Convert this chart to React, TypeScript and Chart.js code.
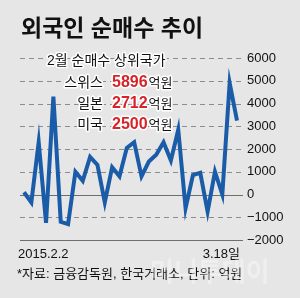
import React, { useEffect, useRef } from "react";
import { Chart, registerables } from "chart.js";

Chart.register(...registerables);

const dates = [
  "2.2", "2.3", "2.4", "2.5", "2.6", "2.9", "2.10", "2.11", "2.12", "2.13",
  "2.16", "2.17", "2.23", "2.24", "2.25", "2.26", "2.27", "3.2", "3.3", "3.4",
  "3.5", "3.6", "3.9", "3.10", "3.11", "3.12", "3.13", "3.16", "3.17", "3.18",
];
const netBuy = [
  100, -350, 2300, -1250, 4300, -1200, -1300, 1000, 600, 1650,
  1300, -350, 1200, 800, 2050, 2300, 800, 1450, 1750, 2300,
  1500, 2850, -600, 850, 950, -750, 1000, 0, 4900, 3250,
];
const yTicks = [-2000, -1000, 0, 1000, 2000, 3000, 4000, 5000, 6000];
const title = "외국인 순매수 추이";
const boxTitle = "2월 순매수 상위국가";
const countries = ["스위스", "일본", "미국"];
const countryValues = [5896, 2712, 2500];
const unit = "억원";
const firstLabel = "2015.2.2";
const lastLabel = "3.18일";
const footer = "*자료: 금융감독원, 한국거래소, 단위: 억원";
const watermark = "머니투데이";

const FONT = "'Liberation Sans', 'Noto Sans CJK KR', sans-serif";

const gridPlugin = {
  id: "customGrid",
  beforeDatasetsDraw(chart: any) {
    const { ctx, chartArea, scales } = chart;
    const y = scales.y;
    const x0 = chartArea.left - 4;
    const x1 = chartArea.right + 6;
    ctx.save();
    yTicks.forEach((v) => {
      const py = Math.round(y.getPixelForValue(v)) + 0.5;
      ctx.beginPath();
      if (v === 0 || v === yTicks[0]) {
        ctx.setLineDash([]);
        ctx.strokeStyle = "#6e6e6e";
      } else {
        ctx.setLineDash([5, 4]);
        ctx.strokeStyle = "#8c8c8c";
      }
      ctx.lineWidth = 1;
      ctx.moveTo(x0, py);
      ctx.lineTo(x1, py);
      ctx.stroke();
    });
    ctx.restore();
  },
};

function haloText(ctx: CanvasRenderingContext2D, t: string, x: number, y: number, fill: string) {
  ctx.lineJoin = "round";
  ctx.strokeStyle = "#ffffff";
  ctx.lineWidth = 3;
  ctx.strokeText(t, x, y);
  ctx.fillStyle = fill;
  ctx.fillText(t, x, y);
}

const textPlugin = {
  id: "texts",
  afterDraw(chart: any) {
    const { ctx, scales } = chart;
    const xs = scales.x;
    ctx.save();
    ctx.textBaseline = "middle";
    // title
    ctx.textAlign = "left";
    ctx.font = `bold 23px ${FONT}`;
    ctx.fillStyle = "#111";
    ctx.fillText(title, 21, 30);
    // box
    ctx.font = `14px ${FONT}`;
    ctx.textAlign = "left";
    haloText(ctx, boxTitle, 47, 61, "#111");
    countries.forEach((c, i) => {
      const yy = 83 + i * 21;
      ctx.font = `14px ${FONT}`;
      ctx.textAlign = "right";
      haloText(ctx, c, 103, yy, "#111");
      ctx.textAlign = "left";
      ctx.font = `bold 16px ${FONT}`;
      const num = String(countryValues[i]);
      haloText(ctx, num, 112, yy, "#d8232a");
      const w = ctx.measureText(num).width;
      ctx.font = `13px ${FONT}`;
      haloText(ctx, unit, 112 + w + 1, yy, "#111");
    });
    // x labels
    ctx.font = `13px ${FONT}`;
    ctx.fillStyle = "#111";
    ctx.textAlign = "left";
    ctx.fillText(firstLabel, xs.getPixelForValue(0) - 6, 254);
    ctx.textAlign = "right";
    ctx.fillText(lastLabel, xs.getPixelForValue(dates.length - 1) + 3, 254);
    // footer
    ctx.textAlign = "left";
    ctx.fillText(footer, 17, 274);
    // watermark
    ctx.font = `bold 26px ${FONT}`;
    ctx.fillStyle = "rgba(255,255,255,0.35)";
    ctx.fillText(watermark, 150, 274);
    ctx.restore();
  },
};

export default function App() {
  const ref = useRef<HTMLCanvasElement>(null);
  useEffect(() => {
    document.body.style.margin = "0";
    const chart = new Chart(ref.current!, {
      type: "line",
      data: {
        labels: dates,
        datasets: [
          {
            data: netBuy,
            borderColor: "#1a5ca8",
            borderWidth: 4,
            pointRadius: 0,
            tension: 0,
            borderJoinStyle: "miter",
            fill: false,
          },
        ],
      },
      options: {
        animation: false,
        responsive: false,
        devicePixelRatio: 1,
        layout: { padding: { left: 24, top: 58, bottom: 58, right: 0 } },
        plugins: { legend: { display: false }, tooltip: { enabled: false } },
        scales: {
          x: { display: false, offset: false },
          y: {
            position: "right",
            min: -2000,
            max: 6000,
            afterFit: (s: any) => {
              s.width = 63;
            },
            afterBuildTicks: (s: any) => {
              s.ticks = yTicks.map((v) => ({ value: v }));
            },
            grid: { display: false, drawTicks: false },
            border: { display: false },
            ticks: {
              padding: 10,
              color: "#111",
              font: { size: 13, family: FONT },
              callback: (v: any) => (v < 0 ? "\u2212" + Math.abs(v) : String(v)),
            },
          },
        },
      },
      plugins: [gridPlugin, textPlugin],
    });
    return () => chart.destroy();
  }, []);
  return (
    <div style={{ position: "fixed", left: 0, top: 0, width: 300, height: 298, background: "#e6e6e6" }}>
      <canvas ref={ref} width={300} height={298} />
    </div>
  );
}
